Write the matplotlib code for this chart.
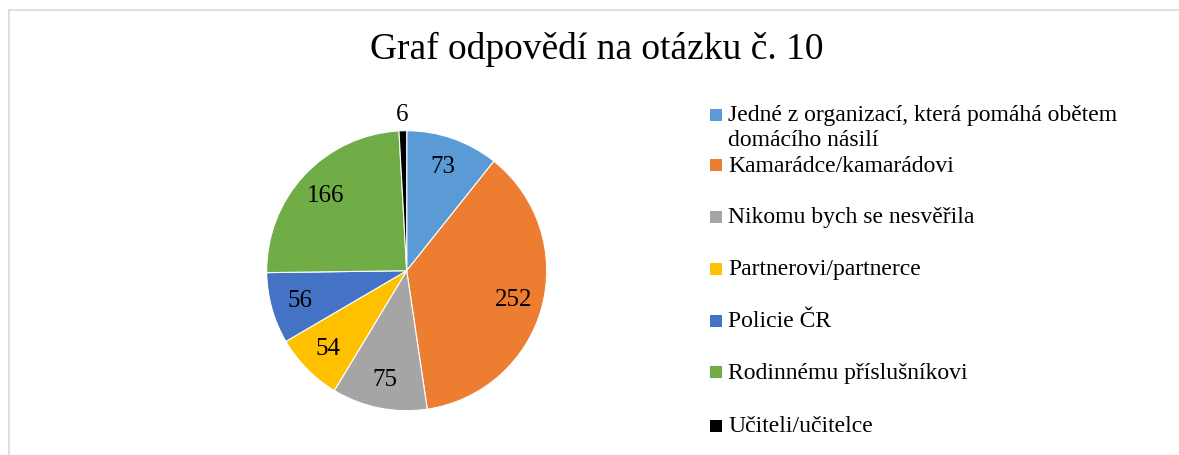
import numpy as np
import matplotlib.pyplot as plt
from matplotlib.patches import Rectangle
from matplotlib.lines import Line2D

plt.rcParams['font.family'] = ['Liberation Serif', 'DejaVu Serif']

title = 'Graf odpovědí na otázku č. 10'
categories = ['Jedné z organizací, která pomáhá obětem\ndomácího násilí',
              'Kamarádce/kamarádovi',
              'Nikomu bych se nesvěřila',
              'Partnerovi/partnerce',
              'Policie ČR',
              'Rodinnému příslušníkovi',
              'Učiteli/učitelce']
values = [73, 252, 75, 54, 56, 166, 6]
colors = ['#5B9BD5', '#ED7D31', '#A5A5A5', '#FFC000', '#4472C4', '#70AD47', '#000000']

W, H = 1179, 456
fig = plt.figure(figsize=(W / 100, H / 100), dpi=100)

# chart area border (left and top edges visible)
fig.add_artist(Line2D([8.5 / W, 8.5 / W], [0, 1 - 11 / H], color='#D9D9D9', lw=1.2))
fig.add_artist(Line2D([8.5 / W, 1], [1 - 11 / H, 1 - 11 / H], color='#D9D9D9', lw=1.2))

fig.text(597 / W, 1 - 49 / H, title, fontsize=27, ha='center', va='center')

# pie
cx, cy, r = 406.7, 271.7, 140
ax = fig.add_axes([(cx - r) / W, 1 - (cy + r) / H, 2 * r / W, 2 * r / H])
wedges, _ = ax.pie(values, colors=colors, startangle=90, counterclock=False,
                   wedgeprops=dict(edgecolor='white', linewidth=0.8))
ax.set_xlim(-1, 1)
ax.set_ylim(-1, 1)
ax.set_aspect('equal')
ax.axis('off')

for w, v in zip(wedges, values):
    mid = np.deg2rad((w.theta1 + w.theta2) / 2)
    d = 1.12 if v < 10 else 0.79
    ax.text(d * np.cos(mid), d * np.sin(mid), str(v), fontsize=18,
            ha='center', va='center', clip_on=False)

# legend
ys = [116, 166, 218, 270, 322, 373, 427]
for lab, col, y in zip(categories, colors, ys):
    fig.add_artist(Rectangle((710 / W, 1 - (y + 6) / H), 12 / W, 12 / H,
                             facecolor=col, edgecolor='none'))
    for i, line in enumerate(lab.split('\n')):
        fig.text(728 / W, 1 - (y + 25 * i) / H, line, fontsize=17,
                 ha='left', va='center')

fig.savefig('out.png', dpi=100)
